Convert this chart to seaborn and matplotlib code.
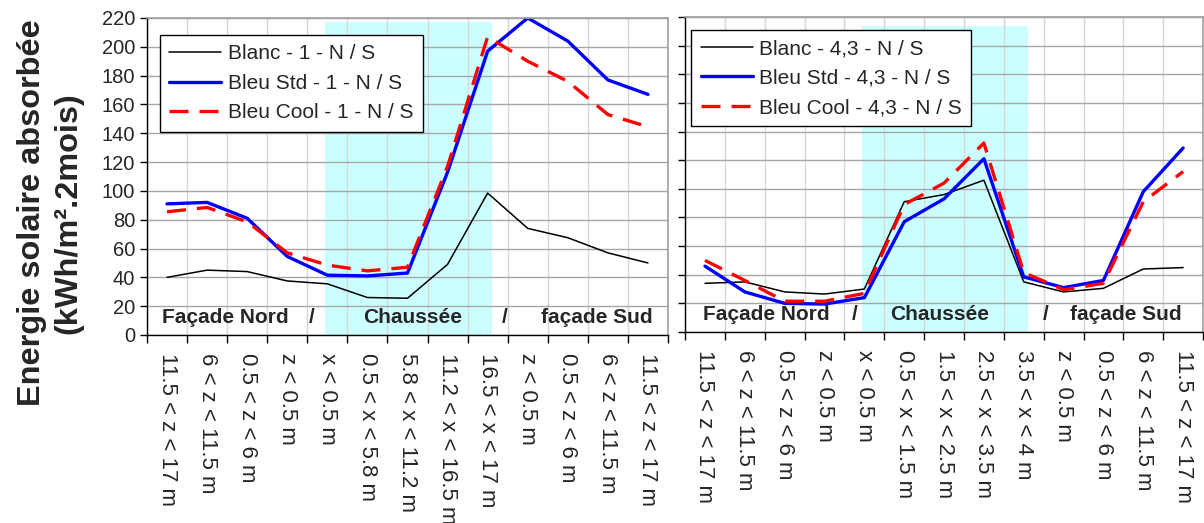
import numpy as np
import seaborn as sns
import matplotlib.pyplot as plt

sns.set_style("ticks")
plt.rcParams['font.family'] = ['Liberation Sans', 'DejaVu Sans']

# x categories (labels) for each panel
labels_1 = ['11.5 < z < 17 m', '6 < z < 11.5 m', '0.5 < z < 6 m', 'z < 0.5 m',
            'x < 0.5 m', '0.5 < x < 5.8 m', '5.8 < x < 11.2 m', '11.2 < x < 16.5 m',
            '16.5 < x < 17 m', 'z < 0.5 m', '0.5 < z < 6 m', '6 < z < 11.5 m',
            '11.5 < z < 17 m']
labels_43 = ['11.5 < z < 17 m', '6 < z < 11.5 m', '0.5 < z < 6 m', 'z < 0.5 m',
             'x < 0.5 m', '0.5 < x < 1.5 m', '1.5 < x < 2.5 m', '2.5 < x < 3.5 m',
             '3.5 < x < 4 m', 'z < 0.5 m', '0.5 < z < 6 m', '6 < z < 11.5 m',
             '11.5 < z < 17 m']

# ratio 1
blanc_1 = [40, 45, 44, 37.5, 35.5, 26, 25.5, 49, 98.5, 74, 67.5, 57, 50]
std_1 = [91, 92, 81, 54.5, 41.5, 41, 43, 113, 197, 220, 204, 177, 167]
cool_1 = [85.5, 88.5, 78.5, 57, 48.5, 44.5, 47, 117, 207, 190, 176, 153, 144.5]

# ratio 4,3
blanc_43 = [34, 35, 28, 26.5, 30, 91, 96, 106, 35, 28, 30.5, 44, 45]
std_43 = [46, 28, 20, 19.5, 24, 77, 93, 121, 38.5, 31, 36, 98, 128.5]
cool_43 = [50, 36, 21.5, 21.5, 27, 89, 104, 132, 41.5, 29.5, 34, 91, 112]

panels = [
    dict(labels=labels_1, series=[blanc_1, std_1, cool_1], tag='1',
         pos=[0.1221, 0.3595, 0.4327, 0.6061], legend_at=(0.025, 0.946),
         shade_top=217.5),
    dict(labels=labels_43, series=[blanc_43, std_43, cool_43], tag='4,3',
         pos=[0.569, 0.3652, 0.4302, 0.6023], legend_at=(0.012, 0.959),
         shade_top=214),
]
names = ['Blanc', 'Bleu Std', 'Bleu Cool']
colors = ['black', '#0000ff', '#ff0000']
widths = [1.1, 2.4, 2.4]
styles = ['-', '-', (0, (5.7, 3.3))]

fig = plt.figure(figsize=(12.04, 5.23), dpi=100)

for k, p in enumerate(panels):
    ax = fig.add_axes(p['pos'])
    x = np.arange(len(p['labels']))
    ax.axvspan(3.95, 8.1, ymin=0, ymax=p['shade_top'] / 220, color='#ccffff',
               lw=0, zorder=0.2)
    for vals, name, c, w, ls in zip(p['series'], names, colors, widths, styles):
        sns.lineplot(x=x, y=vals, ax=ax, color=c, lw=w, linestyle=ls,
                     label=f"{name} - {p['tag']} - N / S")
    ax.set_xlim(-0.5, len(x) - 0.5)
    ax.set_ylim(0, 220)
    ax.set_yticks(np.arange(0, 221, 20))
    ax.set_xticks(np.arange(-0.5, len(x)), labels=[])
    ax.set_xticks(x, labels=p['labels'], minor=True, rotation=270,
                  va='top', ha='center')
    ax.tick_params(axis='x', which='major', length=6, width=1, color='black')
    ax.tick_params(axis='x', which='minor', length=0, pad=13, labelsize=16)
    ax.tick_params(axis='y', length=5, width=1, color='black', labelsize=14.5,
                   labelleft=(k == 0))
    ax.set_axisbelow(True)
    ax.yaxis.grid(True, color='#a6a6a6', lw=1)
    ax.xaxis.grid(True, which='major', color='#d6d6d6', lw=1)
    ax.set_xlabel('')
    ax.set_ylabel('')
    for side in ['left', 'bottom']:
        ax.spines[side].set_color('black')
        ax.spines[side].set_linewidth(1)
    for side in ['top', 'right']:
        ax.spines[side].set_color('#a0a0a0')
        ax.spines[side].set_linewidth(1.2)

    leg = ax.legend(loc='upper left', bbox_to_anchor=p['legend_at'],
                    borderaxespad=0, fontsize=15, handlelength=2.5,
                    handletextpad=0.3, labelspacing=0.5, borderpad=0.45,
                    fancybox=False, framealpha=1, edgecolor='black')
    leg.get_frame().set_linewidth(1)

    # section annotations
    t = dict(transform=ax.transAxes, fontsize=15, fontweight='bold', va='center')
    if k == 0:
        ax.text(0.029, 0.054, 'Façade Nord', ha='left', **t)
        ax.text(0.317, 0.054, '/', ha='center', **t)
        ax.text(0.509, 0.054, 'Chaussée', ha='center', **t)
        ax.text(0.687, 0.054, '/', ha='center', **t)
        ax.text(0.756, 0.054, 'façade Sud', ha='left', **t)
    else:
        ax.text(0.035, 0.054, 'Façade Nord', ha='left', **t)
        ax.text(0.328, 0.054, '/', ha='center', **t)
        ax.text(0.492, 0.054, 'Chaussée', ha='center', **t)
        ax.text(0.697, 0.054, '/', ha='center', **t)
        ax.text(0.743, 0.054, 'façade Sud', ha='left', **t)

fig.text(50 / 1204, 1 - 213 / 523, 'Energie solaire absorbée\n(kWh/m².2mois)',
         rotation=90, ha='center', va='center', fontsize=23.4, fontweight='bold',
         linespacing=1.3)

fig.savefig('out.png', dpi=100)
